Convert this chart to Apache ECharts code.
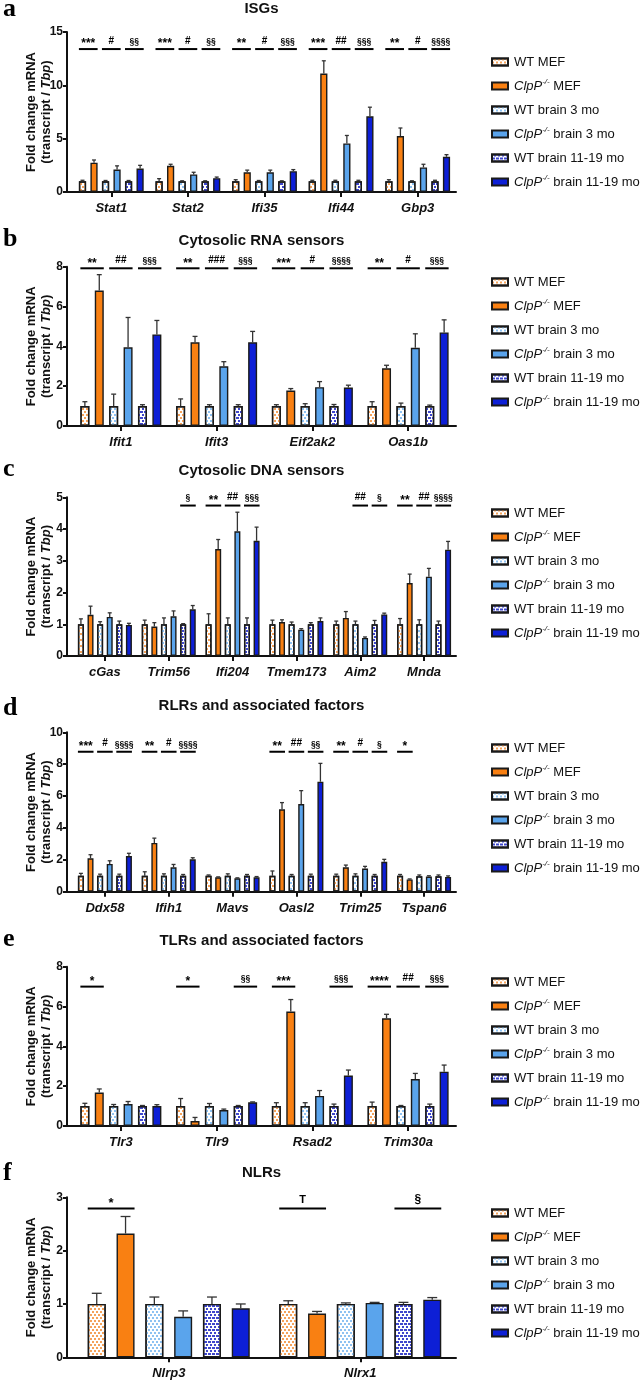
<!DOCTYPE html>
<html><head><meta charset="utf-8">
<script src="https://cdn.jsdelivr.net/npm/echarts@6/dist/echarts.min.js"></script>
<style>html,body{margin:0;padding:0;background:#fff}#c{width:643px;height:1382px}</style>
</head><body><div id="c"></div>
<script>
const seriesNames = ['WT MEF','ClpP-/- MEF','WT brain 3 mo','ClpP-/- brain 3 mo','WT brain 11-19 mo','ClpP-/- brain 11-19 mo'];

// ---- a: ISGs
const catsA = ['Stat1','Stat2','Ifi35','Ifi44','Gbp3'];
const meanA = [
  [1,1,1,1,1],
  [2.75,2.45,1.85,11.1,5.25],
  [1,1,1,1,1],
  [2.1,1.65,1.85,4.55,2.3],
  [1,1,1,1,1],
  [2.2,1.3,1.95,7.1,3.3]];
const errA = [
  [0.1,0.25,0.15,0.1,0.15],
  [0.25,0.15,0.2,1.2,0.75],
  [0.08,0.05,0.08,0.1,0.05],
  [0.35,0.2,0.2,0.75,0.3],
  [0.08,0.05,0.05,0.1,0.1],
  [0.3,0.1,0.15,0.85,0.2]];
const sigA = [[0,0,'***'],[0,1,'#'],[0,2,'§§'],[1,0,'***'],[1,1,'#'],[1,2,'§§'],[2,0,'**'],[2,1,'#'],[2,2,'§§§'],[3,0,'***'],[3,1,'##'],[3,2,'§§§'],[4,0,'**'],[4,1,'#'],[4,2,'§§§§']];

// ---- b: Cytosolic RNA sensors
const catsB = ['Ifit1','Ifit3','Eif2ak2','Oas1b'];
const meanB = [
  [1,1,1,1],
  [6.8,4.2,1.78,2.9],
  [1,1,1,1],
  [3.95,3.0,1.95,3.93],
  [1,1,1,1],
  [4.6,4.2,1.93,4.7]];
const errB = [
  [0.22,0.36,0.07,0.22],
  [0.8,0.3,0.1,0.15],
  [0.6,0.07,0.12,0.15],
  [1.5,0.23,0.28,0.7],
  [0.07,0.07,0.08,0.05],
  [0.7,0.55,0.12,0.63]];
const sigB = [[0,0,'**'],[0,1,'##'],[0,2,'§§§'],[1,0,'**'],[1,1,'###'],[1,2,'§§§'],[2,0,'***'],[2,1,'#'],[2,2,'§§§§'],[3,0,'**'],[3,1,'#'],[3,2,'§§§']];

// ---- c: Cytosolic DNA sensors
const catsC = ['cGas','Trim56','Ifi204','Tmem173','Aim2','Mnda'];
const meanC = [
  [1,1,1,1,1,1],
  [1.3,0.93,3.37,1.07,1.2,2.3],
  [1,1,1,1,1,1],
  [1.23,1.25,3.93,0.83,0.57,2.5],
  [1,1,1,1,1,1],
  [0.98,1.47,3.63,1.1,1.31,3.35]];
const errC = [
  [0.17,0.13,0.33,0.13,0.1,0.18],
  [0.27,0.12,0.3,0.07,0.2,0.28],
  [0.08,0.2,0.2,0.07,0.1,0.14],
  [0.13,0.17,0.6,0.03,0.03,0.26],
  [0.1,0.02,0.2,0.05,0.12,0.1],
  [0.05,0.12,0.43,0.1,0.04,0.26]];
const sigC = [[1,2,'§'],[2,0,'**'],[2,1,'##'],[2,2,'§§§'],[4,1,'##'],[4,2,'§'],[5,0,'**'],[5,1,'##'],[5,2,'§§§§']];

// ---- d: RLRs and associated factors
const catsD = ['Ddx58','Ifih1','Mavs','Oasl2','Trim25','Tspan6'];
const meanD = [
  [1,1,1,1,1,1],
  [2.1,3.06,0.9,5.17,1.53,0.77],
  [1,1,1,1,1,0.97],
  [1.74,1.53,0.84,5.5,1.45,0.95],
  [1,1,1,1,1,0.97],
  [2.24,2.03,0.9,6.9,1.88,0.93]];
const errD = [
  [0.15,0.25,0.05,0.3,0.1,0.08],
  [0.22,0.3,0.03,0.42,0.14,0.03],
  [0.1,0.12,0.12,0.08,0.12,0.08],
  [0.2,0.18,0.03,0.84,0.14,0.05],
  [0.1,0.08,0.08,0.1,0.08,0.08],
  [0.17,0.1,0.05,1.15,0.15,0.06]];
const sigD = [[0,0,'***'],[0,1,'#'],[0,2,'§§§§'],[1,0,'**'],[1,1,'#'],[1,2,'§§§§'],[3,0,'**'],[3,1,'##'],[3,2,'§§'],[4,0,'**'],[4,1,'#'],[4,2,'§'],[5,0,'*']];

// ---- e: TLRs and associated factors
const catsE = ['Tlr3','Tlr9','Rsad2','Trim30a'];
const meanE = [
  [1,1,1,1],
  [1.68,0.25,5.75,5.41],
  [1,1,1,1],
  [1.1,0.8,1.51,2.36],
  [1,1,1,1],
  [1,1.19,2.53,2.73]];
const errE = [
  [0.14,0.38,0.17,0.2],
  [0.18,0.18,0.6,0.2],
  [0.08,0.13,0.17,0.03],
  [0.13,0.05,0.27,0.28],
  [0.03,0.03,0.1,0.1],
  [0.07,0.02,0.28,0.33]];
const sigE = [[0,0,'*'],[1,0,'*'],[1,2,'§§'],[2,0,'***'],[2,2,'§§§'],[3,0,'****'],[3,1,'##'],[3,2,'§§§']];

// ---- f: NLRs
const catsF = ['Nlrp3','Nlrx1'];
const meanF = [
  [1,1],
  [2.32,0.82],
  [1,1],
  [0.76,1.02],
  [1,1],
  [0.92,1.08]];
const errF = [
  [0.2,0.06],
  [0.32,0.04],
  [0.13,0.02],
  [0.11,0.01],
  [0.13,0.03],
  [0.08,0.04]];
const sigF = [[0,0,'*'],[1,0,'T'],[1,2,'§']];

// ---- layout (positions / styles)
const panels = [
  {letter:'a', title:'ISGs', cats:catsA, mean:meanA, err:errA, sig:sigA, yMax:15, yStep:5, sigY:13.4, top:32, bottom:192, axisX:67, titleY:9, letterBase:18, legendTop:49, sigBig:false},
  {letter:'b', title:'Cytosolic RNA sensors', cats:catsB, mean:meanB, err:errB, sig:sigB, yMax:8, yStep:2, sigY:7.92, top:266.7, bottom:426, axisX:67, titleY:241, letterBase:248, legendTop:269, sigBig:false},
  {letter:'c', title:'Cytosolic DNA sensors', cats:catsC, mean:meanC, err:errC, sig:sigC, yMax:5, yStep:1, sigY:4.74, top:497.3, bottom:656, axisX:67, titleY:471, letterBase:478, legendTop:500, sigBig:false},
  {letter:'d', title:'RLRs and associated factors', cats:catsD, mean:meanD, err:errD, sig:sigD, yMax:10, yStep:2, sigY:8.78, top:732.3, bottom:891.7, axisX:67, titleY:706, letterBase:717, legendTop:735, sigBig:false},
  {letter:'e', title:'TLRs and associated factors', cats:catsE, mean:meanE, err:errE, sig:sigE, yMax:8, yStep:2, sigY:7.0, top:966.7, bottom:1126, axisX:67, titleY:941, letterBase:948, legendTop:969, sigBig:false},
  {letter:'f', title:'NLRs', cats:catsF, mean:meanF, err:errF, sig:sigF, yMax:3, yStep:1, sigY:2.79, top:1197.3, bottom:1357.3, axisX:67, titleY:1173, letterBase:1182, legendTop:1200, sigBig:true}
];
const RIGHT = 456, PAD = 6, GAP = 0.6;
const FONT = '"Liberation Sans", Arial, sans-serif';
const INK = '#111';

const seriesStyle = [
  {color:'#ffffff', decal:{symbol:'rect', symbolSize:1, dashArrayX:[[2,2],[0,2,2,0]], dashArrayY:[2,1], color:'#f5a25a'}},
  {color:'#f98012'},
  {color:'#ffffff', decal:{symbol:'rect', symbolSize:1, dashArrayX:[[2,2],[0,2,2,0]], dashArrayY:[2,1], color:'#8ec2f2'}},
  {color:'#5aa4ec'},
  {color:'#ffffff', decal:{symbol:'rect', symbolSize:1, dashArrayX:[[3,1],[0,2,2,0]], dashArrayY:[2,1], color:'#3f47cc'}},
  {color:'#0d1fd6'}
];

function sigFont(label, big) {
  if (label.indexOf('*') >= 0) return {size: big ? 13 : 12, dy: 3};
  if (label.indexOf('§') >= 0) return {size: big ? 12 : 8.5, dy: -1};
  if (label.indexOf('#') >= 0) return {size: 10, dy: -1};
  return {size: big ? 11 : 10, dy: -1};
}

const grids=[], xAxes=[], yAxes=[], series=[], legends=[], graphics=[], titles=[];

panels.forEach((p, pi) => {
  const N = p.cats.length;
  const gridW = RIGHT - p.axisX;
  const catW = (gridW - PAD) / N;
  const barW = 0.094 * catW;
  const pitch = barW * (1 + GAP);
  grids.push({left:p.axisX, top:p.top, width:gridW, height:p.bottom - p.top, containLabel:false});
  const idx = p.cats.map((c,i)=>i);
  xAxes.push({
    type:'value', gridIndex:pi, min:-0.5 - PAD/catW, max:N - 0.5,
    splitLine:{show:false},
    axisLine:{show:true, onZero:false, lineStyle:{color:INK, width:2}},
    axisTick:{show:true, customValues:idx, length:5, lineStyle:{color:INK, width:2}},
    axisLabel:{show:true, customValues:idx, formatter:(v)=>p.cats[Math.round(v)], margin:10,
      fontFamily:FONT, fontWeight:'bold', fontStyle:'italic', fontSize:13, color:INK}
  });
  yAxes.push({
    type:'value', gridIndex:pi, min:0, max:p.yMax, interval:p.yStep,
    splitLine:{show:false},
    axisLine:{show:true, onZero:false, lineStyle:{color:INK, width:2}},
    axisTick:{show:true, length:4, lineStyle:{color:INK, width:2}},
    axisLabel:{fontFamily:FONT, fontWeight:'bold', fontSize:12, color:INK, margin:4},
    name:'Fold change mRNA\n(transcript / {it|Tbp})', nameLocation:'middle', nameGap:13, nameRotate:90,
    nameMoveOverlap:false,
    nameTextStyle:{fontFamily:FONT, fontWeight:'bold', fontSize:13, color:INK, lineHeight:15,
      rich:{it:{fontFamily:FONT, fontWeight:'bold', fontStyle:'italic', fontSize:13, color:INK, lineHeight:15}}}
  });
  seriesNames.forEach((name, k) => {
    const st = seriesStyle[k];
    series.push({
      type:'bar', name, xAxisIndex:pi, yAxisIndex:pi,
      barWidth:barW, barGap:(GAP*100)+'%',
      data:idx.map(i=>[i, p.mean[k][i]]),
      itemStyle:Object.assign({color:st.color, borderColor:'#1a1a1a', borderWidth:1.4}, st.decal?{decal:st.decal}:{}),
      emphasis:{disabled:true}, silent:true, z:2
    });
  });
  const errData = [];
  seriesNames.forEach((name,k)=>idx.forEach(i=>errData.push([i, k, p.mean[k][i], p.err[k][i]])));
  series.push({
    type:'custom', name:'err'+pi, xAxisIndex:pi, yAxisIndex:pi, z:3, silent:true,
    encode:{x:0, y:2}, data:errData,
    renderItem:(params, api)=>{
      const i=api.value(0), k=api.value(1), v=api.value(2), e=api.value(3);
      const b = api.coord([i, v]);
      const x = b[0] + (k - 2.5) * pitch;
      const yt = api.coord([i, v + e])[1];
      const cw = Math.max(4, barW * 0.55);
      const ls = {stroke:'#333', lineWidth:1.3};
      return {type:'group', children:[
        {type:'line', shape:{x1:x, y1:b[1], x2:x, y2:yt}, style:ls},
        {type:'line', shape:{x1:x-cw/2, y1:yt, x2:x+cw/2, y2:yt}, style:ls}
      ]};
    }
  });
  series.push({
    type:'custom', name:'sig'+pi, xAxisIndex:pi, yAxisIndex:pi, z:3, silent:true,
    encode:{x:0}, data:p.sig.map(s=>[s[0], s[1], p.sigY]),
    renderItem:(params, api)=>{
      const i=api.value(0), pr=api.value(1), yv=api.value(2);
      const c = api.coord([i, yv]);
      const x0 = c[0] + (2*pr - 2.5) * pitch - barW/2;
      const x1 = c[0] + (2*pr + 1 - 2.5) * pitch + barW/2;
      const label = p.sig[params.dataIndex][2];
      const f = sigFont(label, p.sigBig);
      return {type:'group', children:[
        {type:'line', shape:{x1:x0, y1:c[1], x2:x1, y2:c[1]}, style:{stroke:'#000', lineWidth:2}},
        {type:'text', x:(x0+x1)/2, y:c[1]+f.dy - 2, style:{text:label, fill:'#000', font:'bold '+f.size+'px '+FONT,
          textAlign:'center', textVerticalAlign:'bottom', align:'center', verticalAlign:'bottom'}}
      ]};
    }
  });
  legends.push({
    orient:'vertical', left:486, top:p.legendTop, itemWidth:16, itemHeight:7, itemGap:8,
    data:seriesNames, selectedMode:false, icon:'rect',
    formatter:(n)=>{
      if (n.indexOf('ClpP-/-')===0) return '{i|ClpP}{s|-/-}{n| '+n.slice(8)+'}';
      return '{w|'+n+'}';
    },
    textStyle:{fontFamily:FONT, fontSize:13, color:INK, lineHeight:16,
      rich:{
        w:{fontFamily:FONT, fontSize:13, color:INK, lineHeight:16, padding:[0,0,0,1]},
        i:{fontFamily:FONT, fontSize:13, fontStyle:'italic', color:INK, lineHeight:16, padding:[0,0,0,1]},
        s:{fontFamily:FONT, fontSize:8, fontStyle:'italic', color:INK, lineHeight:16, verticalAlign:'top', padding:[0,0,5,0]},
        n:{fontFamily:FONT, fontSize:13, color:INK, lineHeight:16}
      }}
  });
  titles.push({text:p.title, left:261.5, top:p.titleY-8, textAlign:'center', padding:0,
    textStyle:{fontFamily:FONT, fontWeight:'bold', fontSize:15, color:INK, lineHeight:16}});
  graphics.push({type:'text', x:3, y:p.letterBase-9, style:{text:p.letter, fill:'#000',
    font:'bold 26px "Liberation Serif", "DejaVu Serif", serif', textAlign:'left', textVerticalAlign:'middle', align:'left', verticalAlign:'middle'}});
});

const chart = echarts.init(document.getElementById('c'), null, {renderer:'canvas'});
chart.setOption({
  animation:false, backgroundColor:'#fff',
  title:titles, grid:grids, xAxis:xAxes, yAxis:yAxes, legend:legends, series, graphic:graphics
});
</script></body></html>
